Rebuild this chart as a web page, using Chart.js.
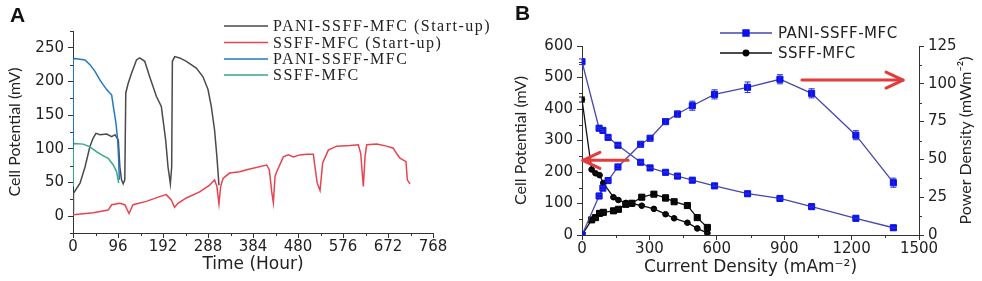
<!DOCTYPE html>
<html><head><meta charset="utf-8">
<script src="https://cdn.jsdelivr.net/npm/chart.js@4.4.1/dist/chart.umd.min.js"></script>
<style>
html,body{margin:0;padding:0;background:#fff;width:982px;height:281px;overflow:hidden}
#wa{position:absolute;left:0;top:0;width:490px;height:281px}
#wb{position:absolute;left:490px;top:0;width:492px;height:281px}
.lab{position:absolute;font:bold 21px "Liberation Sans",Arial,sans-serif;color:#111}
</style></head><body>
<div id="wa"><canvas id="ca"></canvas></div>
<div id="wb"><canvas id="cb"></canvas></div>
<div class="lab" style="left:10px;top:3px">A</div>
<div class="lab" style="left:515px;top:1px">B</div>
<script>
// ---------- Panel A data ----------
const timeTicksA = [0, 96, 192, 288, 384, 480, 576, 672, 768];
const potTicksA = [0, 50, 100, 150, 200, 250];

const paniStartHours = [0,1,15,25.6,36,43,49,57.6,71.8,82.5,89.6,96.7,100,103.5,107,110.5,112.6,117.6,124.7,135.4,142.5,153,163.6,177.8,188.4,197.7,202.7,207.7,210.5,212,217,227.6,241.8,263,277.3,288,295,302,307,311.4];
const paniStartMv = [7,34,49,73,103,116,123,121,122,118,121,113,73,54,48,54,183,197,212,232,235,230,207,178,163,113,73,48,73,230,237,235,230,220,207,188,163,128,88,46];

const ssffStartHours = [0,43,75,82.5,100,110.5,119.6,128,156.4,184.8,199,209.7,216.7,223.8,241.8,270,291.4,302,307,311.4,315,320,334,355.6,370.5,413,418.8,424,427.4,431,434.6,448.7,459.4,470,484,498.6,512.7,517,521,527,532.6,544.7,562.5,591,608.7,613.8,619.4,623,626.5,647.8,669,683.3,690.4,697.6,710.4,713.2,719];
const ssffStartMv = [2,5,9,17,19,17,4,17,22,29,32,24,13,19,27,36,46,54,44,18,44,56,64,66,69,76,69,36,20,59,66,88,91,88,91,92,92,69,49,38,79,98,104,105,106,93,44,88,106,107,104,101,93,86,81,54,48];

const paniHours = [0,0.5,4.3,25.6,36,46.9,57.6,71.8,82.5,86,91.7,95.3,97.4,98.8];
const paniMv = [100,233,234,232,225,215,202,188,180,163,138,113,84,54];

const ssffHours = [0,0.5,22,36,50,61,75,86,93,97.4];
const ssffMv = [45,108,107,103,96,91,86,76,66,49];

// ---------- Panel B data ----------
const currentTicksB = [0, 300, 600, 900, 1200, 1500];
const potTicksB = [0, 100, 200, 300, 400, 500, 600];
const powTicksB = [0, 25, 50, 75, 100, 125];

const paniCurrent = [0,76,93,116,160,261,303,372,425,491,590,737,881,1022,1219,1386];
const paniPotential = [550,339,332,310,285,231,213,199,187,174,156,131,116,90,53,23];
const paniPotentialErr = [9,3,3,3,2,2,2,2,2,2,2,2,2,2,2,2];
const paniPower = [0,25.8,31,36,45,60,64,75,80,85.5,93,97.7,103,93.7,66,34.6];
const paniPowerErr = [0,1,1,1,1,1.5,1.5,2,2,3,3,3.5,3,3,3,3];

const ssffCurrent = [0,43,60,78,95,140,162,195,222,266,320,372,410,469,513,558];
const ssffPotential = [430,208,196,190,165,120,111,102,100,93,83,66,53,39,21,6];
const ssffPotentialErr = [8,2,2,2,2,2,2,2,2,2,2,2,2,2,2,2];
const ssffPower = [0,10,11.5,14.3,15,16,17,20.3,21,25,27,24.5,22,19.5,11.5,5];
const ssffPowerErr = [0,0.5,0.5,0.5,0.5,0.5,0.5,1,1,1,1.5,2,1.5,1,1.5,1.5];

// annotation arrows (data units)
const arrowToPotential = {from: 205, to: 4, level: 237, axis: 'y'};
const arrowToPower = {from: 979, to: 1429, level: 102.5, axis: 'y2'};

const zip = (xs, ys) => xs.map((x, i) => ({x, y: ys[i]}));

const TICK_FONT = {family: 'DejaVu Sans', size: 15};
const TXT = '#222';
const AX = '#333';

// ---------- plugins ----------
const minorTicks = {
  id: 'minorTicks',
  afterDraw(chart, args, opts) {
    const ctx = chart.ctx;
    ctx.save();
    ctx.strokeStyle = AX; ctx.lineWidth = 1;
    for (const id of Object.keys(opts.steps || {})) {
      const s = chart.scales[id]; if (!s) continue;
      const step = opts.steps[id];
      for (let v = s.min; v <= s.max + 1e-9; v += step) {
        const major = Math.abs((v / (2 * step)) - Math.round(v / (2 * step))) < 1e-6;
        if (major) continue;
        ctx.beginPath();
        if (s.isHorizontal()) {
          const p = Math.round(s.getPixelForValue(v)) + 0.5;
          ctx.moveTo(p, s.top); ctx.lineTo(p, s.top + 3);
        } else {
          const p = Math.round(s.getPixelForValue(v)) + 0.5;
          if (s.position === 'right') { ctx.moveTo(s.left, p); ctx.lineTo(s.left + 3, p); }
          else { ctx.moveTo(s.right, p); ctx.lineTo(s.right - 3, p); }
        }
        ctx.stroke();
      }
    }
    ctx.restore();
  }
};

const legendA = {
  id: 'legendA',
  afterDraw(chart) {
    const ctx = chart.ctx;
    const rows = [26, 42.5, 59, 75];
    ctx.save();
    ctx.font = '16px "Liberation Serif"';
    ctx.letterSpacing = '1.5px';
    ctx.textBaseline = 'middle';
    chart.data.datasets.forEach((ds, i) => {
      const y = rows[i];
      ctx.strokeStyle = ds.borderColor; ctx.lineWidth = 1.5;
      ctx.beginPath(); ctx.moveTo(224, y); ctx.lineTo(268, y); ctx.stroke();
      ctx.fillStyle = TXT;
      ctx.fillText(ds.label, 273, y + 1);
    });
    ctx.restore();
  }
};

const legendB = {
  id: 'legendB',
  afterDraw(chart) {
    const ctx = chart.ctx;
    const items = [{i: 0, y: 33}, {i: 2, y: 53}];
    ctx.save();
    ctx.font = '15px "DejaVu Sans"';
    ctx.letterSpacing = '0.5px';
    ctx.textBaseline = 'middle';
    items.forEach(it => {
      const ds = chart.data.datasets[it.i];
      ctx.strokeStyle = ds.borderColor; ctx.lineWidth = 1.3;
      ctx.beginPath(); ctx.moveTo(230, it.y); ctx.lineTo(282, it.y); ctx.stroke();
      ctx.fillStyle = ds.pointBackgroundColor;
      ctx.strokeStyle = ds.pointBorderColor;
      Chart.helpers.drawPoint(ctx, {pointStyle: ds.pointStyle, radius: ds.pointRadius, borderWidth: 1}, 256, it.y);
      ctx.fillStyle = TXT;
      ctx.fillText(ds.label, 288, it.y + 1);
    });
    ctx.restore();
  }
};

const errorBars = {
  id: 'errorBars',
  afterDatasetsDraw(chart) {
    const ctx = chart.ctx;
    chart.data.datasets.forEach((ds, i) => {
      if (!ds.errors) return;
      const meta = chart.getDatasetMeta(i);
      const ys = chart.scales[ds.yAxisID || 'y'];
      ctx.save();
      ctx.strokeStyle = ds.errColor; ctx.lineWidth = 1;
      ds.data.forEach((p, j) => {
        const e = ds.errors[j]; if (!e) return;
        const x = meta.data[j].x;
        const a = ys.getPixelForValue(p.y - e), b = ys.getPixelForValue(p.y + e);
        ctx.beginPath();
        ctx.moveTo(x, a); ctx.lineTo(x, b);
        ctx.moveTo(x - 3, a); ctx.lineTo(x + 3, a);
        ctx.moveTo(x - 3, b); ctx.lineTo(x + 3, b);
        ctx.stroke();
      });
      ctx.restore();
    });
  }
};

const arrows = {
  id: 'arrows',
  afterDatasetsDraw(chart) {
    const ctx = chart.ctx;
    const xs = chart.scales.x;
    ctx.save();
    ctx.strokeStyle = '#e23b3b'; ctx.lineWidth = 3; ctx.lineCap = 'round'; ctx.lineJoin = 'round';
    [arrowToPotential, arrowToPower].forEach(a => {
      const y = chart.scales[a.axis].getPixelForValue(a.level);
      const x0 = xs.getPixelForValue(a.from), x1 = xs.getPixelForValue(a.to);
      const dir = Math.sign(x1 - x0);
      ctx.beginPath(); ctx.moveTo(x0, y); ctx.lineTo(x1, y); ctx.stroke();
      ctx.beginPath();
      ctx.moveTo(x1 - dir * 17, y - 8); ctx.lineTo(x1, y); ctx.lineTo(x1 - dir * 17, y + 8);
      ctx.stroke();
    });
    ctx.restore();
  }
};

const rightTitle = {
  id: 'rightTitle',
  afterDraw(chart, args, opts) {
    const ctx = chart.ctx; const s = chart.scales.y2;
    ctx.save();
    ctx.font = opts.font; ctx.fillStyle = TXT;
    ctx.textAlign = 'center'; ctx.textBaseline = 'middle';
    ctx.translate(opts.x, (s.top + s.bottom) / 2);
    ctx.rotate(-Math.PI / 2);
    ctx.fillText(opts.text, 0, 0);
    ctx.restore();
  }
};

function axisBase() {
  return {
    grid: {display: true, drawOnChartArea: false, drawTicks: true, tickLength: 5, color: AX, tickColor: AX},
    border: {display: true, color: AX, width: 1},
    ticks: {font: TICK_FONT, color: TXT, padding: 4, autoSkip: false, maxRotation: 0, callback: v => String(v)}
  };
}

// ---------- Chart A ----------
const xA = axisBase();
Object.assign(xA, {
  type: 'linear', min: 0, max: 768,
  afterBuildTicks: s => { s.ticks = timeTicksA.map(v => ({value: v})); },
  afterFit: s => { s.height = 48; },
  title: {display: true, text: 'Time (Hour)', font: {family: 'DejaVu Sans', size: 17}, color: TXT, padding: {top: 0, bottom: 6}}
});
xA.ticks.padding = 0;
const yA = axisBase();
Object.assign(yA, {
  min: -25, max: 275,
  afterBuildTicks: s => { s.ticks = potTicksA.map(v => ({value: v})); },
  afterFit: s => { s.width = 73; },
  title: {display: true, text: 'Cell Potential (mV)', font: {family: 'Lato', size: 16}, color: TXT, padding: {top: 5, bottom: 0}}
});

new Chart(document.getElementById('ca'), {
  type: 'line',
  data: {datasets: [
    {label: 'PANI-SSFF-MFC (Start-up)', data: zip(paniStartHours, paniStartMv), borderColor: '#4a4a4a', order: 2},
    {label: 'SSFF-MFC (Start-up)', data: zip(ssffStartHours, ssffStartMv), borderColor: '#e8434f', order: 3},
    {label: 'PANI-SSFF-MFC', data: zip(paniHours, paniMv), borderColor: '#2478c2', order: 0},
    {label: 'SSFF-MFC', data: zip(ssffHours, ssffMv), borderColor: '#36a98a', order: 1}
  ]},
  options: {
    responsive: true, maintainAspectRatio: false, animation: false,
    elements: {point: {radius: 0}, line: {borderWidth: 1.5, tension: 0}},
    layout: {padding: {left: 0, right: 57, top: 31, bottom: 0}},
    plugins: {legend: {display: false}, tooltip: {enabled: false}, minorTicks: {steps: {x: 48, y: 25}}},
    scales: {x: xA, y: yA}
  },
  plugins: [minorTicks, legendA]
});

// ---------- Chart B ----------
const xB = axisBase();
Object.assign(xB, {
  type: 'linear', min: 0, max: 1500,
  afterBuildTicks: s => { s.ticks = currentTicksB.map(v => ({value: v})); },
  afterFit: s => { s.height = 46; },
  title: {display: true, text: 'Current Density (mAm⁻²)', font: {family: 'DejaVu Sans', size: 17}, color: TXT, padding: {top: 0, bottom: 3}}
});
xB.ticks.padding = 0;
const yB = axisBase();
Object.assign(yB, {
  position: 'left', min: 0, max: 600,
  afterBuildTicks: s => { s.ticks = potTicksB.map(v => ({value: v})); },
  afterFit: s => { s.width = 92; },
  title: {display: true, text: 'Cell Potential (mV)', font: {family: 'Lato', size: 16}, color: TXT, padding: {top: 21, bottom: 0}}
});
const y2B = axisBase();
Object.assign(y2B, {
  position: 'right', min: 0, max: 125,
  afterBuildTicks: s => { s.ticks = powTicksB.map(v => ({value: v})); },
  afterFit: s => { s.width = 63; }
});

const blueLine = '#4646ad', blueMark = '#0a10f0', blk = '#111';
new Chart(document.getElementById('cb'), {
  type: 'line',
  data: {datasets: [
    {label: 'PANI-SSFF-MFC', data: zip(paniCurrent, paniPower), yAxisID: 'y2', errors: paniPowerErr, errColor: '#2a2ad0',
     borderColor: blueLine, pointStyle: 'rect', pointRadius: 4.3, pointBackgroundColor: blueMark, pointBorderColor: blueMark},
    {label: 'PANI-SSFF-MFC potential', data: zip(paniCurrent, paniPotential), yAxisID: 'y', errors: paniPotentialErr, errColor: '#2a2ad0',
     borderColor: blueLine, pointStyle: 'rect', pointRadius: 4.3, pointBackgroundColor: blueMark, pointBorderColor: blueMark},
    {label: 'SSFF-MFC', data: zip(ssffCurrent, ssffPotential), yAxisID: 'y', errors: ssffPotentialErr, errColor: blk,
     borderColor: blk, pointStyle: 'circle', pointRadius: 2.8, pointBackgroundColor: '#000', pointBorderColor: '#000'},
    {label: 'SSFF-MFC power', data: zip(ssffCurrent, ssffPower), yAxisID: 'y2', errors: ssffPowerErr, errColor: blk,
     borderColor: blk, pointStyle: 'rect', pointRadius: 4.3, pointBackgroundColor: '#000', pointBorderColor: '#000'}
  ]},
  options: {
    responsive: true, maintainAspectRatio: false, animation: false,
    elements: {line: {borderWidth: 1.3, tension: 0}, point: {borderWidth: 1}},
    layout: {padding: {left: 0, right: 0, top: 46, bottom: 0}},
    plugins: {
      legend: {display: false}, tooltip: {enabled: false},
      minorTicks: {steps: {x: 150, y: 50, y2: 12.5}},
      rightTitle: {text: 'Power Density (mWm⁻²)', font: '16px Lato', x: 476}
    },
    scales: {x: xB, y: yB, y2: y2B}
  },
  plugins: [minorTicks, legendB, errorBars, arrows, rightTitle]
});
</script>
</body></html>
